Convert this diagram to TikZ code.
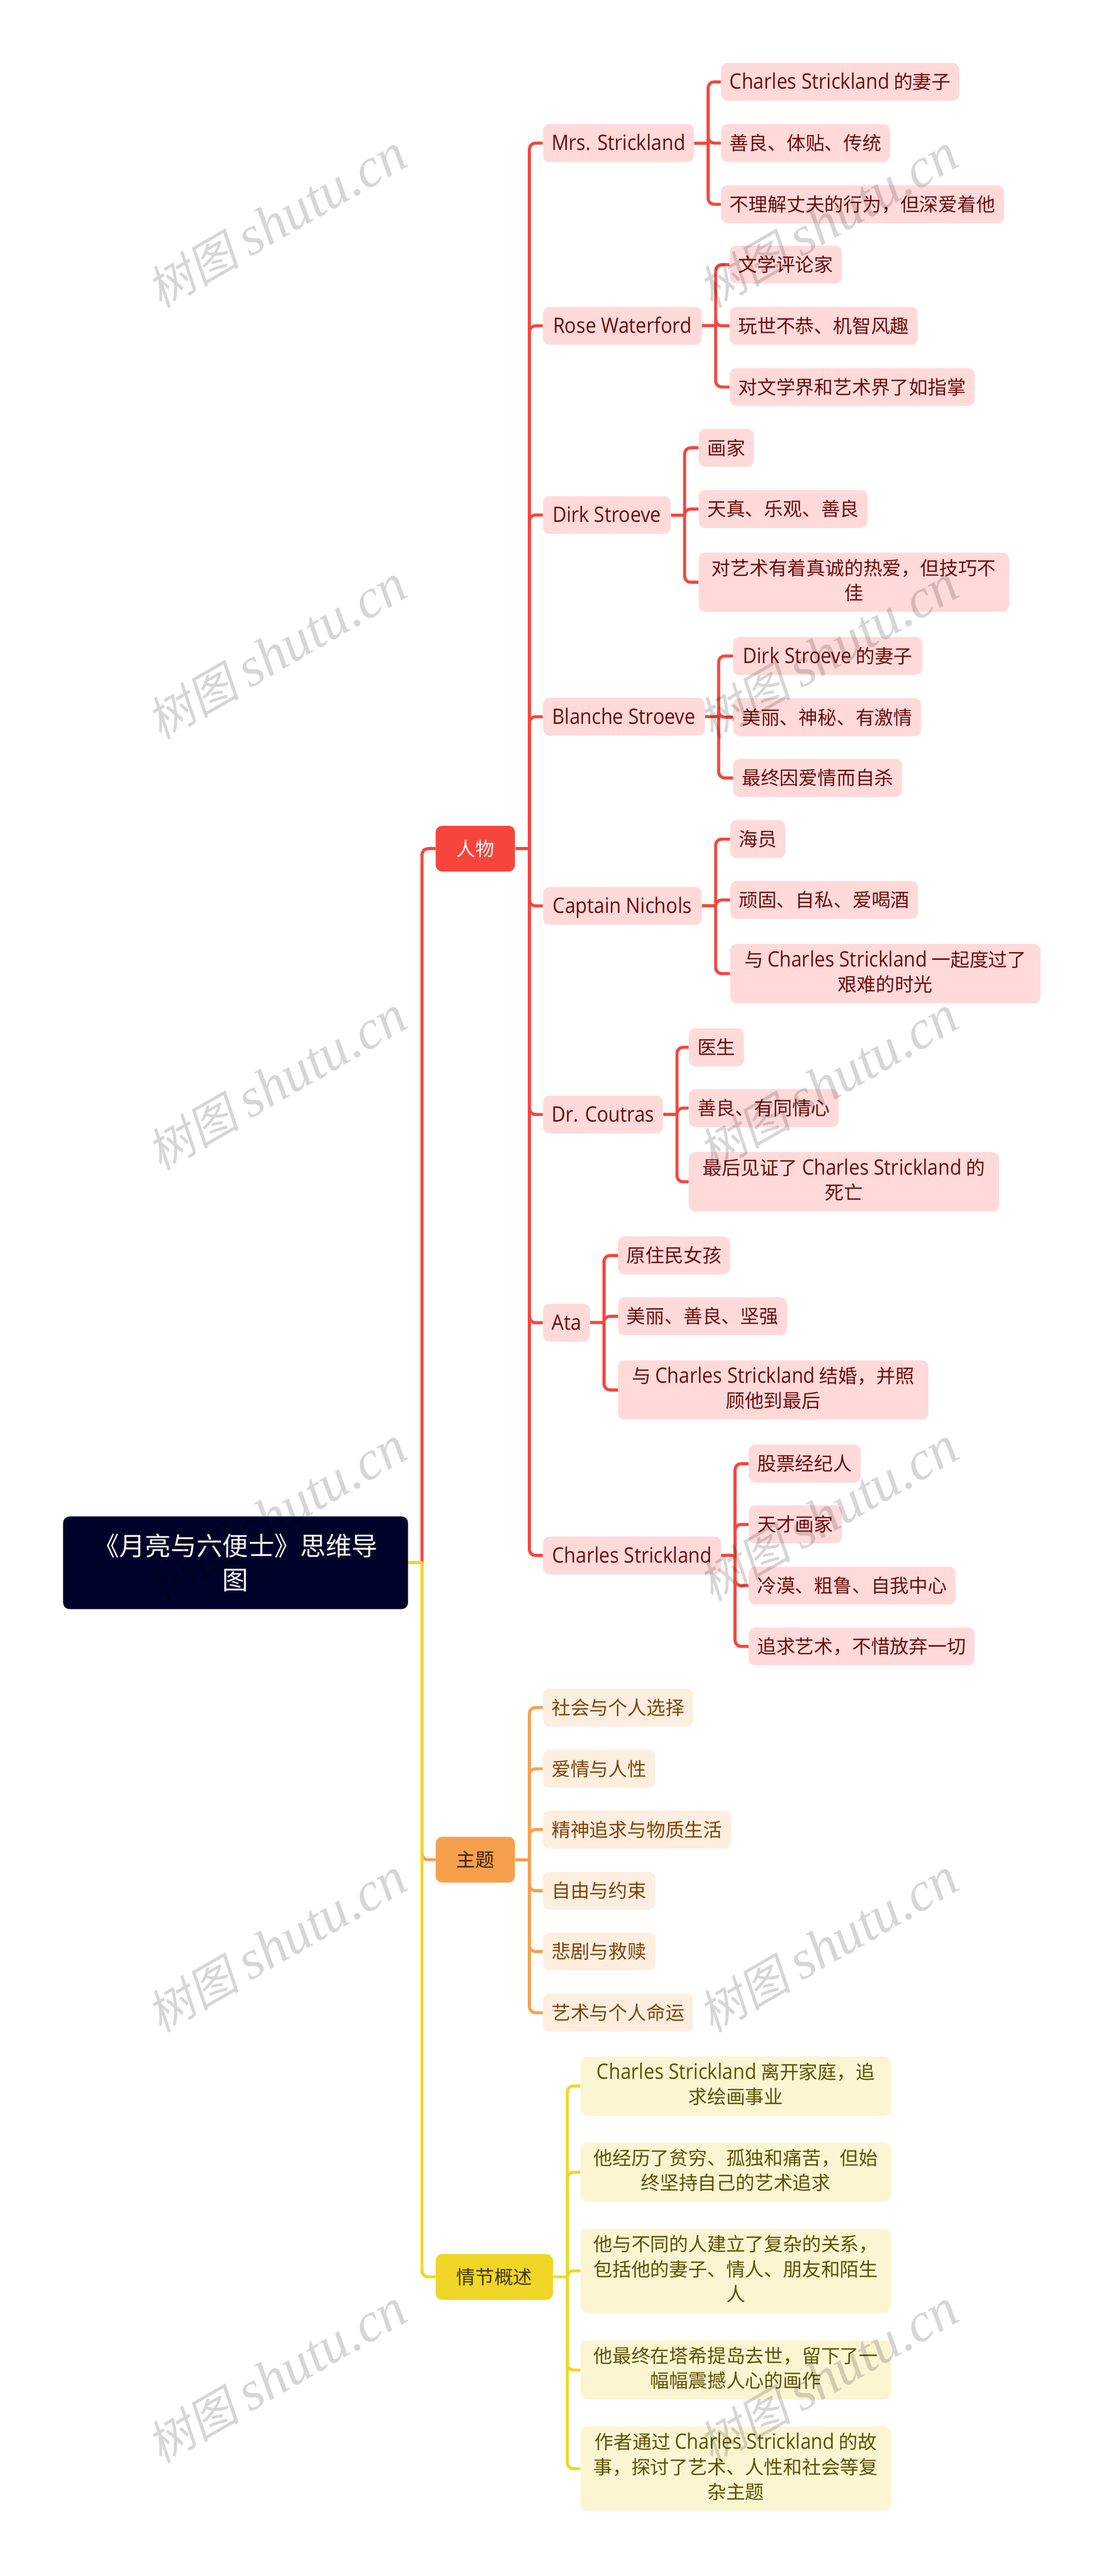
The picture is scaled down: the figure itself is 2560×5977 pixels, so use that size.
\documentclass[tikz,border=0pt]{standalone}
\usepackage{fontspec}
\setmainfont{Noto Sans CJK SC}
\newfontfamily\enfont[Scale=1.12,FakeStretch=0.9]{Open Sans}
\newfontfamily\markcjk[FakeSlant=0.2]{Noto Sans CJK SC}
\newfontfamily\marklat{Liberation Serif}[ItalicFont=* Italic]
\newcommand{\enf}[1]{{\enfont #1}}
\newcommand{\linerule}{\rule[-6.14pt]{0pt}{29pt}}

\definecolor{redline}{HTML}{F7453D}
\definecolor{orangeline}{HTML}{F6A04D}
\definecolor{yellowline}{HTML}{F0D626}
\definecolor{pinkfill}{HTML}{FFDAD9}
\definecolor{peachfill}{HTML}{FDEEDF}
\definecolor{creamfill}{HTML}{FBF5D2}
\definecolor{rootfill}{HTML}{000229}
\definecolor{pinktext}{HTML}{6E0A0A}
\definecolor{peachtext}{HTML}{7F4506}
\definecolor{creamtext}{HTML}{5E5200}

\tikzset{
  base/.style={align=center,rounded corners=7.5pt,inner xsep=10pt,inner ysep=7.5pt,anchor=west,
    font=\fontsize{22}{29}\selectfont,
    execute at begin node=\linerule,execute at end node=\linerule},
  pinkbox/.style={base,fill=pinkfill,text=pinktext},
  peachbox/.style={base,fill=peachfill,text=peachtext},
  creambox/.style={base,fill=creamfill,text=creamtext},
  wide/.style={minimum width=360pt},
  topic/.style={base,inner xsep=24pt,minimum height=53pt},
  rootbox/.style={align=center,rounded corners=7.5pt,fill=rootfill,text=white,anchor=west,
    minimum width=400pt,minimum height=107.5pt,font=\fontsize{30}{39.5}\selectfont},
  link/.style={line width=3.5pt,rounded corners=7pt},
  redlink/.style={link,draw=redline},
  orangelink/.style={link,draw=orangeline},
  yellowlink/.style={link,draw=yellowline},
  wmark/.style={rotate=30,text=black,text opacity=0.16,inner sep=0pt}
}

\begin{document}
\begin{tikzpicture}[x=0.5pt,y=-0.5pt]
\useasboundingbox (0,0) rectangle (2560,5977);
\fill[white] (0,0) rectangle (2560,5977);

% root and the three topics
\node[rootbox] (root) at (146,3626) {《月亮与六便士》思维导\\图};
\node[topic,fill=redline,text=white] (renwu) at (1010,1969) {人物};
\node[topic,fill=orangeline,text={rgb,255:red,58;green,32;blue,0}] (zhuti) at (1010,4315) {主题};
\node[topic,fill=yellowline,text={rgb,255:red,66;green,56;blue,0}] (qingjie) at (1010,5283) {情节概述};

% people
\node[pinkbox,minimum width=174.5pt] (mrs) at (1259,332) {\enf{Mrs. Strickland}};
\node[pinkbox] (mrsa) at (1672,190) {\enf{Charles Strickland} 的妻子};
\node[pinkbox] (mrsb) at (1672,332) {善良、体贴、传统};
\node[pinkbox] (mrsc) at (1672,474) {不理解丈夫的行为，但深爱着他};

\node[pinkbox,minimum width=184pt] (rose) at (1259,756) {\enf{Rose Waterford}};
\node[pinkbox] (rosea) at (1692,614) {文学评论家};
\node[pinkbox] (roseb) at (1692,756) {玩世不恭、机智风趣};
\node[pinkbox] (rosec) at (1692,898) {对文学界和艺术界了如指掌};

\node[pinkbox,minimum width=148pt] (dirk) at (1259,1195) {\enf{Dirk Stroeve}};
\node[pinkbox] (dirka) at (1620,1039) {画家};
\node[pinkbox] (dirkb) at (1620,1181) {天真、乐观、善良};
\node[pinkbox,wide] (dirkc) at (1620,1351) {对艺术有着真诚的热爱，但技巧不\\佳};

\node[pinkbox,minimum width=187.5pt] (blanche) at (1259,1663) {\enf{Blanche Stroeve}};
\node[pinkbox,minimum width=219.5pt] (blanchea) at (1700,1522) {\enf{Dirk Stroeve} 的妻子};
\node[pinkbox] (blancheb) at (1700,1664) {美丽、神秘、有激情};
\node[pinkbox] (blanchec) at (1700,1805) {最终因爱情而自杀};

\node[pinkbox,minimum width=184pt] (nichols) at (1259,2102) {\enf{Captain Nichols}};
\node[pinkbox] (nicholsa) at (1693,1947) {海员};
\node[pinkbox] (nicholsb) at (1693,2088) {顽固、自私、爱喝酒};
\node[pinkbox,wide] (nicholsc) at (1693,2259) {与 \enf{Charles Strickland} 一起度过了\\艰难的时光};

\node[pinkbox,minimum width=137pt] (coutras) at (1259,2586) {\enf{Dr. Coutras}};
\node[pinkbox] (coutrasa) at (1597,2430) {医生};
\node[pinkbox] (coutrasb) at (1597,2571) {善良、有同情心};
\node[pinkbox,wide] (coutrasc) at (1597,2742) {最后见证了 \enf{Charles Strickland} 的\\死亡};

\node[pinkbox,minimum width=54.5pt] (ata) at (1259,3069) {\enf{Ata}};
\node[pinkbox] (ataa) at (1433,2913) {原住民女孩};
\node[pinkbox] (atab) at (1433,3054) {美丽、善良、坚强};
\node[pinkbox,wide] (atac) at (1433,3225) {与 \enf{Charles Strickland} 结婚，并照\\顾他到最后};

\node[pinkbox,minimum width=206.5pt] (charles) at (1259,3609) {\enf{Charles Strickland}};
\node[pinkbox] (charlesa) at (1736,3396) {股票经纪人};
\node[pinkbox] (charlesb) at (1736,3537) {天才画家};
\node[pinkbox] (charlesc) at (1736,3679) {冷漠、粗鲁、自我中心};
\node[pinkbox] (charlesd) at (1736,3820) {追求艺术，不惜放弃一切};

% themes
\node[peachbox] (themea) at (1259,3962) {社会与个人选择};
\node[peachbox] (themeb) at (1259,4104) {爱情与人性};
\node[peachbox] (themec) at (1259,4245) {精神追求与物质生活};
\node[peachbox] (themed) at (1259,4387) {自由与约束};
\node[peachbox] (themee) at (1259,4528) {悲剧与救赎};
\node[peachbox] (themef) at (1259,4670) {艺术与个人命运};

% plot
\node[creambox,wide] (plota) at (1346,4840) {\enf{Charles Strickland} 离开家庭，追\\求绘画事业};
\node[creambox,wide] (plotb) at (1346,5040) {他经历了贫穷、孤独和痛苦，但始\\终坚持自己的艺术追求};
\node[creambox,wide] (plotc) at (1346,5269) {他与不同的人建立了复杂的关系，\\包括他的妻子、情人、朋友和陌生\\人};
\node[creambox,wide] (plotd) at (1346,5499) {他最终在塔希提岛去世，留下了一\\幅幅震撼人心的画作};
\node[creambox,wide] (plote) at (1346,5728) {作者通过 \enf{Charles Strickland} 的故\\事，探讨了艺术、人性和社会等复\\杂主题};

% connectors
\foreach \c in {mrs,rose,dirk,blanche,nichols,coutras,ata,charles}
  \draw[redlink] (renwu.east) ++(33,0) |- (\c.west);
\foreach \p/\c in {mrs/mrsa,mrs/mrsb,mrs/mrsc,rose/rosea,rose/roseb,rose/rosec,
  dirk/dirka,dirk/dirkb,dirk/dirkc,blanche/blanchea,blanche/blancheb,blanche/blanchec,
  nichols/nicholsa,nichols/nicholsb,nichols/nicholsc,coutras/coutrasa,coutras/coutrasb,coutras/coutrasc,
  ata/ataa,ata/atab,ata/atac,charles/charlesa,charles/charlesb,charles/charlesc,charles/charlesd}
  \draw[redlink] (\p.east) ++(32,0) |- (\c.west);
\foreach \p in {renwu,mrs,rose,dirk,blanche,nichols,coutras,ata,charles}
  \draw[redlink] (\p.east) -- ++(34,0);
\foreach \c in {themea,themeb,themec,themed,themee,themef}
  \draw[orangelink] (zhuti.east) ++(33,0) |- (\c.west);
\draw[orangelink] (zhuti.east) -- ++(34,0);
\foreach \c in {plota,plotb,plotc,plotd,plote}
  \draw[yellowlink] (qingjie.east) ++(33,0) |- (\c.west);
\draw[yellowlink] (qingjie.east) -- ++(34,0);

\draw[redlink] (root.east) ++(32,0) |- (renwu.west);
\draw[orangelink] (root.east) ++(32,0) |- (zhuti.west);
\draw[yellowlink] (root.east) ++(32,0) |- (qingjie.west);
\draw[yellowlink] (root.east) -- ++(34,0);

% watermark
\foreach \wy in {514,1514,...,5514}
  \foreach \wx in {642,1921}
    \node[wmark] (mark-\wx-\wy) at (\wx,\wy) {\fontsize{54}{54}\selectfont\markcjk 树图\ \fontsize{64}{64}\selectfont\marklat\itshape shutu.cn};

\end{tikzpicture}
\end{document}
